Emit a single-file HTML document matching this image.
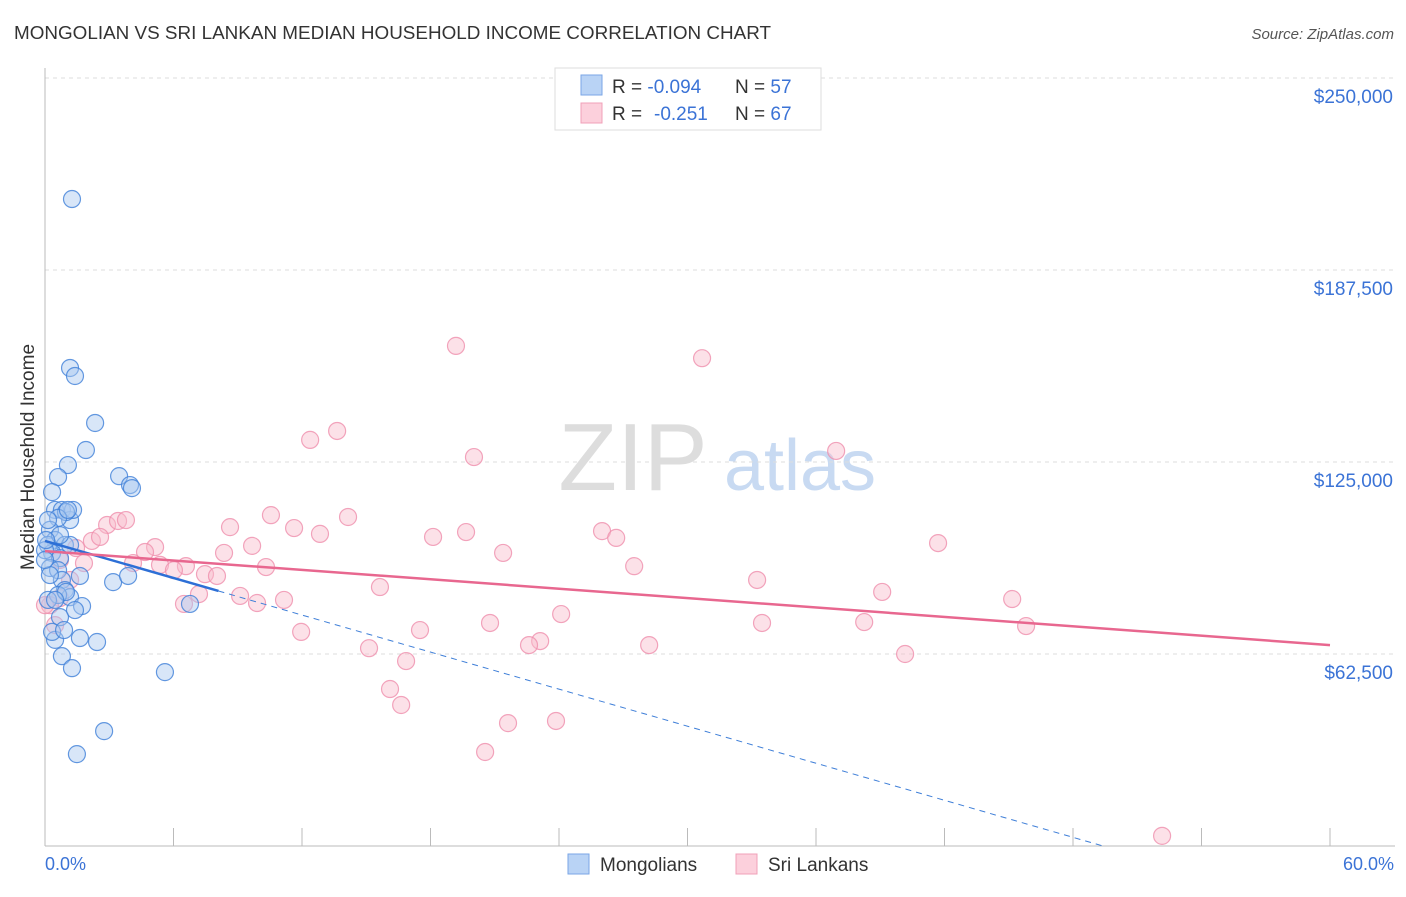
<!DOCTYPE html>
<html><head><meta charset="utf-8"><style>
body{margin:0;background:#fff;font-family:"Liberation Sans",sans-serif;}
svg text{font-family:"Liberation Sans",sans-serif;}
</style></head><body>
<svg id="c" width="1406" height="892" xmlns="http://www.w3.org/2000/svg">
<text x="14" y="39" font-size="18" fill="#333" textLength="757" lengthAdjust="spacingAndGlyphs">MONGOLIAN VS SRI LANKAN MEDIAN HOUSEHOLD INCOME CORRELATION CHART</text>
<text x="1394" y="39" font-size="15" fill="#555" font-style="italic" text-anchor="end">Source: ZipAtlas.com</text>
<g>
<text x="633" y="490" font-size="96" fill="#ddd" font-family="Liberation Serif" text-anchor="middle">ZIP</text>
<text x="800" y="490" font-size="72" fill="#c8daf2" text-anchor="middle">atlas</text>
</g>
<g id="grid"></g>
<g id="axes"></g>
<g id="pts"></g>
<g id="lines"></g>
<text transform="translate(34,457) rotate(-90)" font-size="19" fill="#333" text-anchor="middle">Median Household Income</text>
<text x="45" y="870" font-size="18" fill="#3b73d6">0.0%</text>
<text x="1394" y="870" font-size="18" fill="#3b73d6" text-anchor="end">60.0%</text>
<g>
<rect x="555" y="68" width="266" height="62" fill="#fff" stroke="#ddd"/>
<rect x="581" y="75" width="21" height="20" fill="#b9d3f5" stroke="#7aa6e6"/>
<rect x="581" y="103" width="21" height="20" fill="#fcd0dc" stroke="#f0a0b8"/>
<text x="612" y="93" font-size="19" fill="#333">R = <tspan fill="#3b73d6">-0.094</tspan><tspan x="735">N = </tspan><tspan fill="#3b73d6">57</tspan></text>
<text x="612" y="120" font-size="19" fill="#333">R = <tspan fill="#3b73d6" x="654">-0.251</tspan><tspan x="735">N = </tspan><tspan fill="#3b73d6">67</tspan></text>
</g>
<g>
<rect x="568" y="854" width="21" height="20" fill="#b9d3f5" stroke="#7aa6e6"/>
<text x="600" y="871" font-size="19" fill="#333">Mongolians</text>
<rect x="736" y="854" width="21" height="20" fill="#fcd0dc" stroke="#f0a0b8"/>
<text x="768" y="871" font-size="19" fill="#333">Sri Lankans</text>
</g>
</svg>
<script>
const yTicks=[62.5,125,187.5,250];
const yTickLabels=["$62,500","$125,000","$187,500","$250,000"];
const xTicks=[0,6,12,18,24,30,36,42,48,54,60];
const blueX=[1.26,1.17,1.40,2.34,1.91,1.07,0.61,3.46,3.97,4.06,0.33,0.47,0.79,1.17,1.31,0.98,0.61,0.23,0.47,0.93,0.14,0.33,0.70,1.17,0,0.23,0.61,0.79,1.63,3.18,3.88,0.93,1.17,0.61,1.73,1.40,0.70,0.47,1.63,2.43,0.79,1.26,5.60,2.76,1.49,6.77,0.14,0.33,0.98,0.23,0.70,0.14,0.47,0,0.05,1.07,0.89];
const blueY=[210.6,155.6,153.0,137.7,128.9,124.0,120.1,120.4,117.5,116.5,115.2,109.4,109.4,106.1,109.4,108.7,106.8,102.9,99.6,98.0,98.0,95.4,93.7,98.0,96.3,90.5,89.8,86.6,87.9,85.9,87.9,83.3,81.0,81.7,78.1,76.8,74.5,67.1,67.7,66.4,61.8,57.9,56.6,37.4,29.9,78.8,80.1,69.7,82.7,88.2,101.2,106.1,80.1,93.1,99.6,109.4,70.3];
const pinkX=[19.19,30.68,12.38,13.64,20.03,36.94,2.90,3.41,3.78,8.64,10.55,11.63,12.84,14.15,18.12,19.66,26.01,26.67,41.70,2.19,2.57,5.14,4.67,9.67,8.36,21.39,1.45,0.70,1.82,4.11,5.37,6.58,6.02,10.32,7.47,8.03,27.51,33.25,15.64,39.09,45.16,9.11,7.19,6.49,9.90,11.16,0.70,0.23,0.47,11.96,17.51,20.78,24.10,33.48,38.25,45.81,23.12,22.60,28.21,15.13,16.86,40.16,16.11,16.63,21.62,23.86,20.55,52.16,0,1.17];
const pinkY=[162.8,158.8,132.2,135.1,126.6,128.6,104.5,105.8,106.1,103.8,107.7,103.5,101.6,107.1,100.6,102.2,102.5,100.3,98.6,99.3,100.6,97.3,95.7,97.7,95.4,95.4,97.0,93.1,92.1,92.1,91.5,91.1,89.8,90.8,88.5,87.9,91.1,86.6,84.3,82.7,80.4,81.4,82.0,78.8,79.1,80.1,80.7,78.4,71.9,69.7,70.3,72.6,75.5,72.6,72.9,71.6,66.7,65.4,65.4,64.4,60.2,62.5,51.1,45.9,40.0,40.7,30.6,3.3,78.4,86.6];
const blueTrend=[99.3,-2.01];
const pinkTrend=[96.0,-0.51];
const NS="http://www.w3.org/2000/svg";
const X=v=>45+v*(1285/60);
const Y=v=>846-v*(192/62.5);
function mk(t,a,p){const e=document.createElementNS(NS,t);for(const k in a)e.setAttribute(k,a[k]);p.appendChild(e);return e;}
const grid=document.getElementById('grid'),axes=document.getElementById('axes'),pts=document.getElementById('pts'),lines=document.getElementById('lines');
yTicks.forEach((v,i)=>{
 const l=mk('line',{x1:45,x2:1395,y1:Y(v),y2:Y(v),stroke:'#ddd','stroke-dasharray':'4,4'},grid);
 
 
 const t=mk('text',{x:1393,y:Y(v)+25,'font-size':19,fill:'#3b73d6','text-anchor':'end'},grid);
 t.textContent=yTickLabels[i];
 
 
});
const va=mk('line',{x1:45,x2:45,y1:68,y2:846,stroke:'#bbb'},axes);


const ha=mk('line',{x1:45,x2:1395,y1:846,y2:846,stroke:'#bbb'},axes);


xTicks.forEach(v=>{
 const t=mk('line',{x1:X(v),x2:X(v),y1:828,y2:846,stroke:'#bbb'},axes);
 
 
});
function dots(xs,ys,fill,stroke,name){
 xs.forEach((x,i)=>{
  const c=mk('circle',{cx:X(x),cy:Y(ys[i]),r:8.5,fill:fill,'fill-opacity':0.45,stroke:stroke,'stroke-opacity':0.8,'stroke-width':1.2},pts);
  
  
 });
}
dots(pinkX,pinkY,'#f8bccd','#ef8fac','sri-lankan-point');
dots(blueX,blueY,'#a9c8f0','#3f7fd8','mongolian-point');
const bEnd=-blueTrend[0]/blueTrend[1];
const bd=mk('line',{x1:X(8.1),y1:Y(blueTrend[0]+blueTrend[1]*8.1),x2:X(bEnd),y2:Y(0),stroke:'#3f7fd8','stroke-dasharray':'6,5','stroke-width':1},lines);


const bs=mk('line',{x1:X(0),y1:Y(blueTrend[0]),x2:X(8.1),y2:Y(blueTrend[0]+blueTrend[1]*8.1),stroke:'#2d6fd6','stroke-width':2.5},lines);


const ps=mk('line',{x1:X(0),y1:Y(pinkTrend[0]),x2:X(60),y2:Y(pinkTrend[0]+pinkTrend[1]*60),stroke:'#e8678f','stroke-width':2.5},lines);


</script>
</body></html>
